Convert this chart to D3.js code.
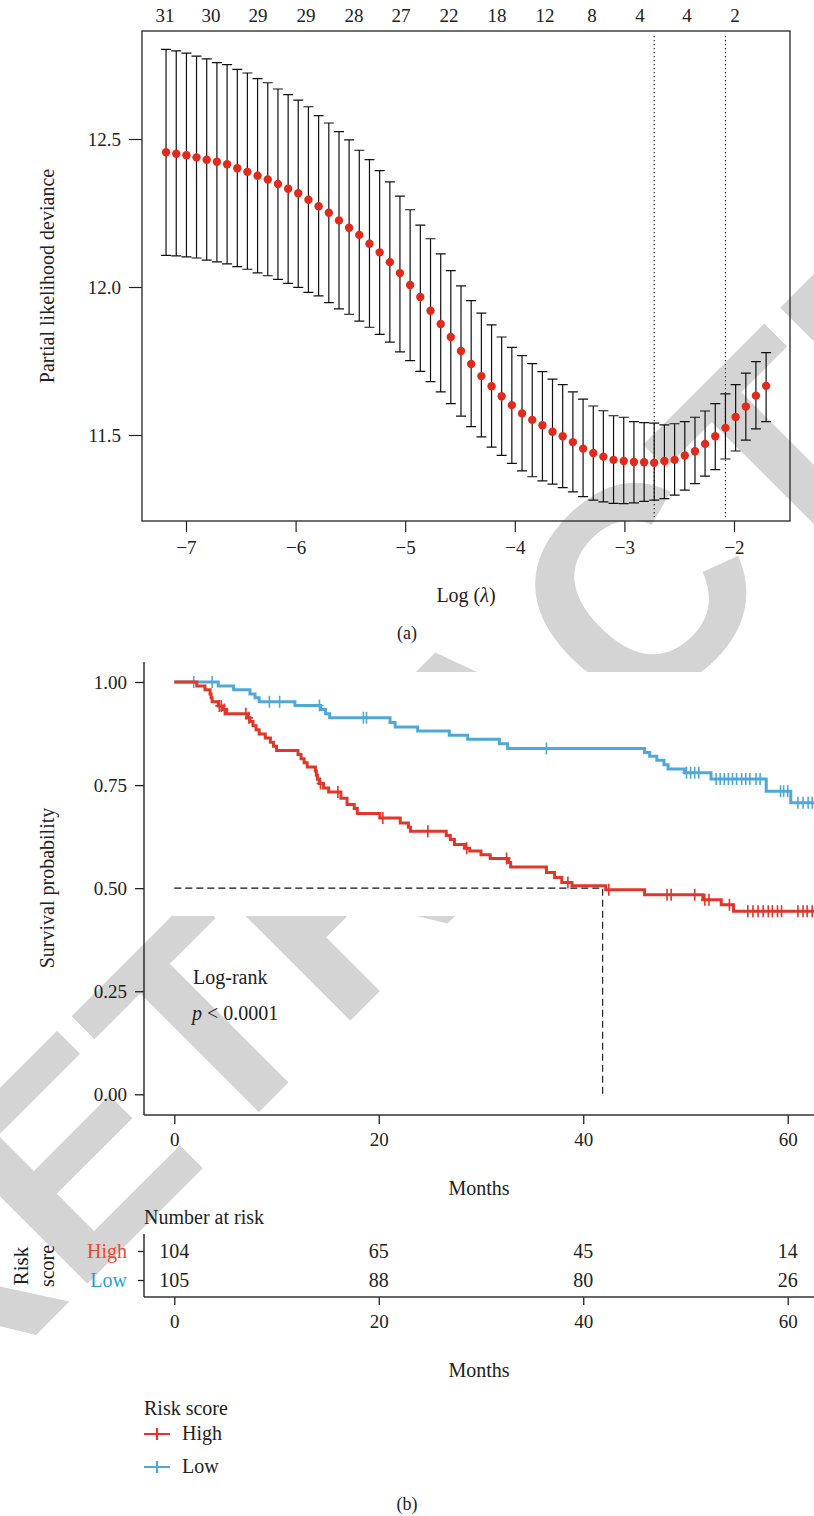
<!DOCTYPE html>
<html>
<head>
<meta charset="utf-8">
<script src="https://cdn.jsdelivr.net/npm/d3@7"></script>
<style>
  body { margin: 0; background: #fff; }
  svg { display: block; font-family: "Liberation Serif", "DejaVu Serif", serif; }
</style>
</head>
<body>
<div id="chart"></div>
<script>
// ---------- panel (a): lasso cross-validation ----------
const logLambda = [
  -7.182, -7.089, -6.996, -6.904, -6.811, -6.718, -6.625, -6.532, -6.440, -6.347,
  -6.254, -6.161, -6.068, -5.976, -5.883, -5.790, -5.697, -5.604, -5.512, -5.419,
  -5.326, -5.233, -5.140, -5.048, -4.955, -4.862, -4.769, -4.676, -4.584, -4.491,
  -4.398, -4.305, -4.212, -4.120, -4.027, -3.934, -3.841, -3.748, -3.656, -3.563,
  -3.470, -3.377, -3.284, -3.192, -3.099, -3.006, -2.913, -2.820, -2.728, -2.635,
  -2.542, -2.449, -2.356, -2.264, -2.171, -2.078, -1.985, -1.892, -1.800, -1.707
];
const cvMean = [
  12.455, 12.450, 12.445, 12.438, 12.430, 12.423, 12.415, 12.401, 12.389, 12.376,
  12.363, 12.348, 12.332, 12.317, 12.295, 12.273, 12.251, 12.225, 12.200, 12.176,
  12.146, 12.117, 12.084, 12.047, 12.007, 11.966, 11.920, 11.875, 11.831, 11.784,
  11.740, 11.699, 11.665, 11.631, 11.601, 11.573, 11.551, 11.533, 11.511, 11.496,
  11.476, 11.454, 11.439, 11.427, 11.416, 11.412, 11.409, 11.408, 11.406, 11.412,
  11.416, 11.431, 11.445, 11.470, 11.496, 11.524, 11.561, 11.596, 11.633, 11.666
];
const cvUpper = [
  12.803, 12.798, 12.790, 12.780, 12.771, 12.758, 12.751, 12.735, 12.723, 12.704,
  12.690, 12.669, 12.650, 12.631, 12.609, 12.579, 12.554, 12.525, 12.497, 12.462,
  12.430, 12.393, 12.355, 12.307, 12.261, 12.209, 12.163, 12.112, 12.055, 12.004,
  11.954, 11.912, 11.872, 11.831, 11.796, 11.768, 11.741, 11.714, 11.689, 11.670,
  11.646, 11.621, 11.598, 11.582, 11.565, 11.560, 11.545, 11.542, 11.540, 11.534,
  11.538, 11.545, 11.560, 11.581, 11.606, 11.639, 11.670, 11.709, 11.748, 11.778
];
const cvLower = [
  12.107, 12.105, 12.102, 12.098, 12.091, 12.085, 12.078, 12.069, 12.060, 12.048,
  12.038, 12.026, 12.012, 11.999, 11.982, 11.970, 11.947, 11.926, 11.908, 11.885,
  11.864, 11.840, 11.814, 11.781, 11.751, 11.715, 11.680, 11.646, 11.606, 11.564,
  11.528, 11.494, 11.459, 11.431, 11.404, 11.379, 11.359, 11.345, 11.334, 11.322,
  11.308, 11.292, 11.280, 11.274, 11.269, 11.268, 11.271, 11.276, 11.280, 11.285,
  11.297, 11.314, 11.336, 11.361, 11.383, 11.419, 11.446, 11.483, 11.521, 11.545
];
// number of non-zero coefficients printed along the top
const nonzeroAt = [-7.192, -6.772, -6.343, -5.905, -5.467, -5.038, -4.600, -4.162, -3.724, -3.296, -2.858, -2.429, -1.991];
const nonzeroCount = [31, 30, 29, 29, 28, 27, 22, 18, 12, 8, 4, 4, 2];
const lambdaLines = [-2.728, -2.078]; // lambda.min and lambda.1se
const devTicks = [11.5, 12.0, 12.5];
const lambdaTicks = [-7, -6, -5, -4, -3, -2];

// ---------- panel (b): Kaplan-Meier ----------
const highTimes = [0, 2.2, 3.0, 3.5, 3.6, 3.7, 4.3, 4.8, 5.1, 7.2, 7.4, 7.7, 8.0, 8.3, 8.9, 9.4, 9.7, 10.0,
  12.1, 12.4, 12.7, 13.0, 13.8, 13.9, 14.0, 14.2, 14.6, 15.1, 16.3, 16.9, 17.6, 17.9, 20.1, 22.1,
  22.9, 23.1, 26.6, 27.0, 27.4, 28.4, 28.9, 30.0, 30.9, 32.7, 32.9, 36.4, 37.2, 37.9, 38.9, 42.2,
  46.0, 51.7, 53.5, 54.7];
const highSurv = [1, 0.990, 0.981, 0.971, 0.962, 0.952, 0.942, 0.933, 0.923, 0.913, 0.904, 0.894, 0.884, 0.874, 0.864, 0.854, 0.844, 0.834,
  0.824, 0.814, 0.804, 0.794, 0.784, 0.774, 0.764, 0.754, 0.743, 0.733, 0.718, 0.703, 0.693, 0.681, 0.670, 0.658,
  0.648, 0.638, 0.628, 0.618, 0.606, 0.597, 0.590, 0.581, 0.572, 0.562, 0.551, 0.538, 0.526, 0.514, 0.506, 0.496,
  0.484, 0.472, 0.460, 0.444];
const highCensor = [4.4, 4.6, 4.9, 7.0, 7.3, 14.3, 16.0, 20.4, 24.8, 28.6, 32.5, 38.5, 42.5, 48.2, 48.6, 50.9,
  51.9, 52.3, 54.3, 56.1, 56.6, 57.1, 57.6, 58.1, 58.5, 59.0, 59.4, 61.0, 61.5, 61.9, 62.4];

const lowTimes = [0, 4.3, 5.8, 7.4, 7.9, 8.3, 11.8, 14.3, 14.8, 15.2, 21.1, 21.6, 23.8, 26.9, 28.7, 31.8, 32.6,
  46.0, 46.5, 47.2, 47.9, 48.3, 49.9, 52.5, 57.9, 60.3];
const lowSurv = [1, 0.990, 0.981, 0.971, 0.962, 0.952, 0.943, 0.933, 0.923, 0.913, 0.902, 0.891, 0.881, 0.871, 0.861, 0.850, 0.839,
  0.829, 0.820, 0.810, 0.799, 0.789, 0.780, 0.765, 0.735, 0.707];
const lowCensor = [1.9, 3.7, 9.3, 10.3, 14.2, 18.5, 18.8, 36.4, 50.1, 50.5, 50.9, 51.3, 53.0, 53.4, 53.8, 54.2,
  54.6, 55.0, 55.5, 55.9, 56.3, 56.9, 57.3, 59.3, 59.6, 60.0, 61.0, 61.5, 62.0, 62.4];
const followEnd = 62.6;
const medianHigh = 41.9;

const riskGroups = ["High", "Low"];
const riskTimes = [0, 20, 40, 60];
const riskHigh = [104, 65, 45, 14];
const riskLow = [105, 88, 80, 26];
const survTicks = [0, 0.25, 0.5, 0.75, 1];

const red = "#e2362a";
const blue = "#4fa9d8";

const svg = d3.select("#chart").append("svg")
    .attr("width", 814)
    .attr("height", 1516);

svg.append("rect").attr("width", 814).attr("height", 1516).attr("fill", "#fff");

// grey diagonal stamp behind the figure
svg.append("text")
    .attr("transform", "translate(-75,1446) rotate(-45)")
    .style("font-family", "Liberation Sans")
    .style("font-weight", "bold")
    .style("font-size", "291px")
    .attr("fill", "#d4d4d4")
    .text("RETRACTED");
// the survival panel background hides part of it
svg.append("rect")
    .attr("x", 173).attr("y", 672)
    .attr("width", 641).attr("height", 244)
    .attr("fill", "#fff");

// ========== panel (a) ==========
const xA = d3.scaleLinear().domain([-7, -2]).range([186, 734]);
const yA = d3.scaleLinear().domain([11.5, 12.5]).range([435, 139]);
const boxA = { left: 142, right: 790, top: 31, bottom: 521 };

const gA = svg.append("g");

gA.append("g")
    .attr("transform", `translate(${boxA.left},0)`)
    .call(d3.axisLeft(yA).tickValues(devTicks).tickFormat(d3.format(".1f")).tickSize(13).tickPadding(8))
    .call(g => g.select(".domain").remove());

gA.append("g")
    .attr("transform", `translate(0,${boxA.bottom})`)
    .call(d3.axisBottom(xA).tickValues(lambdaTicks).tickFormat(d3.format("d")).tickSize(11).tickPadding(9))
    .call(g => g.select(".domain").remove());

gA.selectAll(".tick line").attr("stroke", "#222").attr("stroke-width", 1.2);
gA.selectAll(".tick text").attr("fill", "#222").style("font-size", "19px").style("font-family", "Liberation Serif");

gA.append("rect")
    .attr("x", boxA.left).attr("y", boxA.top)
    .attr("width", boxA.right - boxA.left).attr("height", boxA.bottom - boxA.top)
    .attr("fill", "none").attr("stroke", "#333").attr("stroke-width", 1.4);

// number of variables on top
gA.selectAll(".nz")
    .data(nonzeroCount)
    .enter()
    .append("text")
    .attr("x", (d, i) => xA(nonzeroAt[i]))
    .attr("y", 15)
    .attr("text-anchor", "middle")
    .attr("dominant-baseline", "central")
    .style("font-size", "19px")
    .attr("fill", "#222")
    .text(d => d);

// dotted reference lines
gA.selectAll(".vline")
    .data(lambdaLines)
    .enter()
    .append("line")
    .attr("x1", d => xA(d)).attr("x2", d => xA(d))
    .attr("y1", 36).attr("y2", 517)
    .attr("stroke", "#111")
    .attr("stroke-width", 1.1)
    .attr("stroke-dasharray", "1.2,2.8");

const cvData = logLambda.map((l, i) => ({ l, m: cvMean[i], hi: cvUpper[i], lo: cvLower[i] }));

const bars = gA.append("g").attr("stroke", "#111").attr("stroke-width", 1.2);
bars.selectAll(".err")
    .data(cvData)
    .enter()
    .append("path")
    .attr("fill", "none")
    .attr("d", d => {
        const x = xA(d.l), y1 = yA(d.hi), y2 = yA(d.lo);
        return `M${x},${y1}V${y2}M${x - 5},${y1}H${x + 5}M${x - 5},${y2}H${x + 5}`;
    });

gA.selectAll(".pt")
    .data(cvData)
    .enter()
    .append("circle")
    .attr("cx", d => xA(d.l))
    .attr("cy", d => yA(d.m))
    .attr("r", 4.2)
    .attr("fill", "#e22a1c");

gA.append("text")
    .attr("transform", "translate(47,276) rotate(-90)")
    .attr("text-anchor", "middle")
    .attr("dominant-baseline", "central")
    .style("font-size", "20px")
    .attr("fill", "#222")
    .text("Partial likelihood deviance");

const xLab = gA.append("text")
    .attr("x", 466).attr("y", 595)
    .attr("text-anchor", "middle")
    .attr("dominant-baseline", "central")
    .style("font-size", "20px")
    .attr("fill", "#222");
xLab.append("tspan").text("Log (");
xLab.append("tspan").style("font-style", "italic").text("λ");
xLab.append("tspan").text(")");

svg.append("text")
    .attr("x", 407).attr("y", 633)
    .attr("text-anchor", "middle")
    .attr("dominant-baseline", "central")
    .style("font-size", "18px")
    .attr("fill", "#222")
    .text("(a)");

// ========== panel (b) ==========
const xB = d3.scaleLinear().domain([0, 60]).range([174.3, 787.7]);
const yB = d3.scaleLinear().domain([0, 1]).range([1094.3, 682]);
const axLeft = 144, axBottom = 1115;

const gB = svg.append("g");

gB.append("g")
    .attr("transform", `translate(${axLeft},0)`)
    .call(d3.axisLeft(yB).tickValues(survTicks).tickFormat(d3.format(".2f")).tickSize(9).tickPadding(8))
    .call(g => g.select(".domain").remove());

gB.append("g")
    .attr("transform", `translate(0,${axBottom})`)
    .call(d3.axisBottom(xB).tickValues(riskTimes).tickFormat(d3.format("d")).tickSize(9).tickPadding(9))
    .call(g => g.select(".domain").remove());

gB.selectAll(".tick line").attr("stroke", "#222").attr("stroke-width", 1.3);
gB.selectAll(".tick text").attr("fill", "#222").style("font-size", "19px").style("font-family", "Liberation Serif");

gB.append("line").attr("x1", axLeft).attr("x2", axLeft).attr("y1", 662).attr("y2", axBottom)
    .attr("stroke", "#222").attr("stroke-width", 1.4);
gB.append("line").attr("x1", axLeft).attr("x2", 814).attr("y1", axBottom).attr("y2", axBottom)
    .attr("stroke", "#333").attr("stroke-width", 1.4);

// median guide
gB.append("path")
    .attr("d", `M${xB(0)},${yB(0.5)}H${xB(medianHigh)}V${yB(0)}`)
    .attr("fill", "none")
    .attr("stroke", "#111")
    .attr("stroke-width", 1.1)
    .attr("stroke-dasharray", "7,4");

function survAt(times, surv, t) {
    let s = surv[0];
    times.forEach((tt, i) => { if (tt <= t) s = surv[i]; });
    return s;
}

const stepLine = d3.line()
    .x(d => xB(d[0]))
    .y(d => yB(d[1]))
    .curve(d3.curveStepAfter);

const groups = [
    { times: lowTimes, surv: lowSurv, censor: lowCensor, color: blue },
    { times: highTimes, surv: highSurv, censor: highCensor, color: red }
];

groups.forEach(grp => {
    const pts = grp.times.map((t, i) => [t, grp.surv[i]]);
    pts.push([followEnd, grp.surv[grp.surv.length - 1]]);
    gB.append("path")
        .attr("d", stepLine(pts))
        .attr("fill", "none")
        .attr("stroke", grp.color)
        .attr("stroke-width", 3);
    gB.append("g")
        .selectAll("path")
        .data(grp.censor)
        .enter()
        .append("path")
        .attr("d", t => {
            const x = xB(t), y = yB(survAt(grp.times, grp.surv, t));
            return `M${x - 4},${y}H${x + 4}M${x},${y - 6}V${y + 6}`;
        })
        .attr("stroke", grp.color)
        .attr("stroke-width", 1.6);
});

gB.append("text")
    .attr("x", 193).attr("y", 977)
    .attr("dominant-baseline", "central")
    .style("font-size", "20px").attr("fill", "#222")
    .text("Log-rank");
const pTxt = gB.append("text")
    .attr("x", 192).attr("y", 1013)
    .attr("dominant-baseline", "central")
    .style("font-size", "20px").attr("fill", "#222");
pTxt.append("tspan").style("font-style", "italic").text("p");
pTxt.append("tspan").text(" < 0.0001");

gB.append("text")
    .attr("transform", "translate(47,888) rotate(-90)")
    .attr("text-anchor", "middle")
    .attr("dominant-baseline", "central")
    .style("font-size", "20px").attr("fill", "#222")
    .text("Survival probability");

gB.append("text")
    .attr("x", 479).attr("y", 1188)
    .attr("text-anchor", "middle")
    .attr("dominant-baseline", "central")
    .style("font-size", "20px").attr("fill", "#222")
    .text("Months");

// ---------- risk table ----------
const yR = d3.scalePoint().domain(riskGroups).range([1251, 1280]);
const gR = svg.append("g");

gR.append("text")
    .attr("x", 144).attr("y", 1217)
    .attr("dominant-baseline", "central")
    .style("font-size", "20px").attr("fill", "#222")
    .text("Number at risk");

gR.append("g")
    .attr("transform", `translate(${axLeft},0)`)
    .call(d3.axisLeft(yR).tickSize(6).tickPadding(11))
    .call(g => g.select(".domain").remove())
    .call(g => g.selectAll(".tick text")
        .attr("fill", d => d === "High" ? "#e64b35" : "#1ea2d8")
        .style("font-size", "20px").style("font-family", "Liberation Serif"));

gR.append("g")
    .attr("transform", "translate(0,1297)")
    .call(d3.axisBottom(xB).tickValues(riskTimes).tickFormat(d3.format("d")).tickSize(8).tickPadding(10))
    .call(g => g.select(".domain").remove())
    .call(g => g.selectAll(".tick text").attr("fill", "#222").style("font-size", "19px").style("font-family", "Liberation Serif"));

gR.selectAll(".tick line").attr("stroke", "#222").attr("stroke-width", 1.3);

gR.append("line").attr("x1", axLeft).attr("x2", axLeft).attr("y1", 1234).attr("y2", 1297)
    .attr("stroke", "#222").attr("stroke-width", 1.4);
gR.append("line").attr("x1", axLeft).attr("x2", 814).attr("y1", 1297).attr("y2", 1297)
    .attr("stroke", "#333").attr("stroke-width", 1.4);

[riskHigh, riskLow].forEach((row, r) => {
    gR.append("g")
        .selectAll("text")
        .data(row)
        .enter()
        .append("text")
        .attr("x", (d, i) => xB(riskTimes[i]))
        .attr("y", yR(riskGroups[r]))
        .attr("text-anchor", "middle")
        .attr("dominant-baseline", "central")
        .style("font-size", "20px").attr("fill", "#222")
        .text(d => d);
});

gR.append("text")
    .attr("transform", "translate(21,1266) rotate(-90)")
    .attr("text-anchor", "middle")
    .attr("dominant-baseline", "central")
    .style("font-size", "21px").attr("fill", "#222")
    .text("Risk");
gR.append("text")
    .attr("transform", "translate(47,1266) rotate(-90)")
    .attr("text-anchor", "middle")
    .attr("dominant-baseline", "central")
    .style("font-size", "20px").attr("fill", "#222")
    .text("score");

gR.append("text")
    .attr("x", 479).attr("y", 1370)
    .attr("text-anchor", "middle")
    .attr("dominant-baseline", "central")
    .style("font-size", "20px").attr("fill", "#222")
    .text("Months");

// ---------- legend ----------
const gL = svg.append("g");
gL.append("text")
    .attr("x", 144).attr("y", 1408)
    .attr("dominant-baseline", "central")
    .style("font-size", "20px").attr("fill", "#222")
    .text("Risk score");

const legendItems = [
    { label: "High", color: red, y: 1434 },
    { label: "Low", color: blue, y: 1467 }
];
legendItems.forEach(item => {
    gL.append("path")
        .attr("d", `M144,${item.y}H170M157,${item.y - 6}V${item.y + 6}`)
        .attr("stroke", item.color)
        .attr("stroke-width", 2.2);
    gL.append("text")
        .attr("x", 182).attr("y", item.y - 1)
        .attr("dominant-baseline", "central")
        .style("font-size", "20px").attr("fill", "#222")
        .text(item.label);
});

svg.append("text")
    .attr("x", 407).attr("y", 1504)
    .attr("text-anchor", "middle")
    .attr("dominant-baseline", "central")
    .style("font-size", "18px")
    .attr("fill", "#222")
    .text("(b)");
</script>
</body>
</html>
